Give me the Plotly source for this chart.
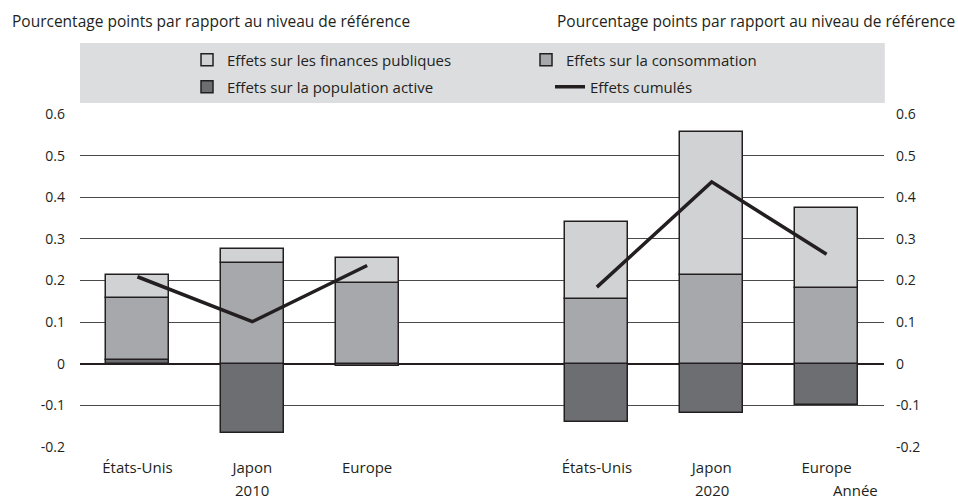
import plotly.graph_objects as go

years = ['2010', '2020']
countries = ['États-Unis', 'Japon', 'Europe']

# values per year, in country order
population = {'2010': [0.01, -0.166, -0.006], '2020': [-0.14, -0.119, -0.098]}
consommation = {'2010': [0.149, 0.242, 0.194], '2020': [0.155, 0.213, 0.181]}
finances = {'2010': [0.055, 0.034, 0.059], '2020': [0.185, 0.344, 0.194]}
cumules = {'2010': [0.209, 0.101, 0.236], '2020': [0.184, 0.437, 0.263]}

y_ticks = [-0.2, -0.1, 0, 0.1, 0.2, 0.3, 0.4, 0.5, 0.6]
y_title = 'Pourcentage points par rapport au niveau de référence'

FONT = 'Open Sans'
LIGHT = '#d1d2d4'
MID = '#a7a8ab'
DARK = '#6d6e71'
EDGE = '#231f20'

# one empty slot between the two years
def slots(year_index):
    return [year_index * (len(countries) + 1) + i for i in range(len(countries))]

xpos, ticktext = [], []
for k, yr in enumerate(years):
    xpos += slots(k)
    ticktext += countries

def flat(d):
    out = []
    for yr in years:
        out += d[yr]
    return out

fig = go.Figure()

# (name, values, colour, legend, rank) - bars stacked from zero outwards
bar_series = [
    ('Effets sur la population active', population, DARK, 'legend2', 1),
    ('Effets sur la consommation', consommation, MID, 'legend', 2),
    ('Effets sur les finances publiques', finances, LIGHT, 'legend', 1),
]
for name, vals, color, leg, rank in bar_series:
    fig.add_trace(go.Bar(
        x=xpos, y=flat(vals), name=name, width=0.55,
        marker=dict(color=color, line=dict(color=EDGE, width=1.5)),
        legend=leg, legendrank=rank,
    ))

# cumulative line, drawn separately for each year
for k, yr in enumerate(years):
    fig.add_trace(go.Scatter(
        x=slots(k), y=cumules[yr], mode='lines', name='Effets cumulés',
        line=dict(color=EDGE, width=3.5), legend='legend2', legendrank=2,
        legendgroup='cum', showlegend=(k == 0),
    ))

# invisible trace so the right axis is drawn
fig.add_trace(go.Scatter(x=[xpos[0]], y=[0], yaxis='y2', mode='markers',
                         marker=dict(opacity=0), showlegend=False, hoverinfo='skip'))

axis_common = dict(range=[-0.2, 0.6], tickvals=y_ticks, ticktext=[f'{v:g}' for v in y_ticks],
                   showline=False, ticks='', tickfont=dict(family=FONT, size=14, color=EDGE))

legend_common = dict(orientation='h', xanchor='left', yanchor='middle',
                     bgcolor='rgba(0,0,0,0)', entrywidthmode='pixels',
                     font=dict(family=FONT, size=15, color=EDGE))

fig.update_layout(
    width=958, height=503,
    margin=dict(l=80, r=74, t=114, b=56, autoexpand=False),
    plot_bgcolor='white', paper_bgcolor='white',
    barmode='relative', bargap=0,
    font=dict(family=FONT, size=15, color=EDGE),
    xaxis=dict(range=[-0.5, 6.5], tickvals=xpos, ticktext=ticktext, showgrid=False,
               zeroline=False, showline=False, ticks='', ticklabelstandoff=10,
               tickfont=dict(family=FONT, size=15, color=EDGE)),
    yaxis=dict(**axis_common, showgrid=True, gridcolor='#4a4a4a', gridwidth=1,
               zeroline=True, zerolinecolor=EDGE, zerolinewidth=1.5,
               ticklabelstandoff=14),
    yaxis2=dict(**axis_common, overlaying='y', side='right', showgrid=False,
                zeroline=False, ticklabelstandoff=11),
    legend=dict(**legend_common, x=0.1331, y=1.162, entrywidth=294),
    legend2=dict(**legend_common, x=0.1331, y=1.081, entrywidth=318),
    shapes=[dict(type='rect', xref='paper', yref='paper', x0=0, x1=1.001,
                 y0=1.033, y1=1.213, fillcolor='#dcdddf', line=dict(width=0), layer='below')],
    annotations=[
        dict(text=y_title, xref='paper', yref='paper', x=-0.0871, y=1.279, xanchor='left',
             yanchor='middle', showarrow=False, font=dict(size=15.5)),
        dict(text=y_title, xref='paper', yref='paper', x=1.0905, y=1.279, xanchor='right',
             yanchor='middle', showarrow=False, font=dict(size=15.5)),
        dict(text=years[0], x=slots(0)[1], xref='x', yref='paper', y=-0.13, yanchor='middle',
             showarrow=False),
        dict(text=years[1], x=slots(1)[1], xref='x', yref='paper', y=-0.13, yanchor='middle',
             showarrow=False),
        dict(text='Année', xref='paper', yref='paper', x=0.995, y=-0.13, xanchor='right',
             yanchor='middle', showarrow=False),
    ],
)

# drop the default page margin so the figure sits at the window's corner
fig.write_html('out.html', config={'displayModeBar': False},
               post_script="document.body.style.margin='0';")
